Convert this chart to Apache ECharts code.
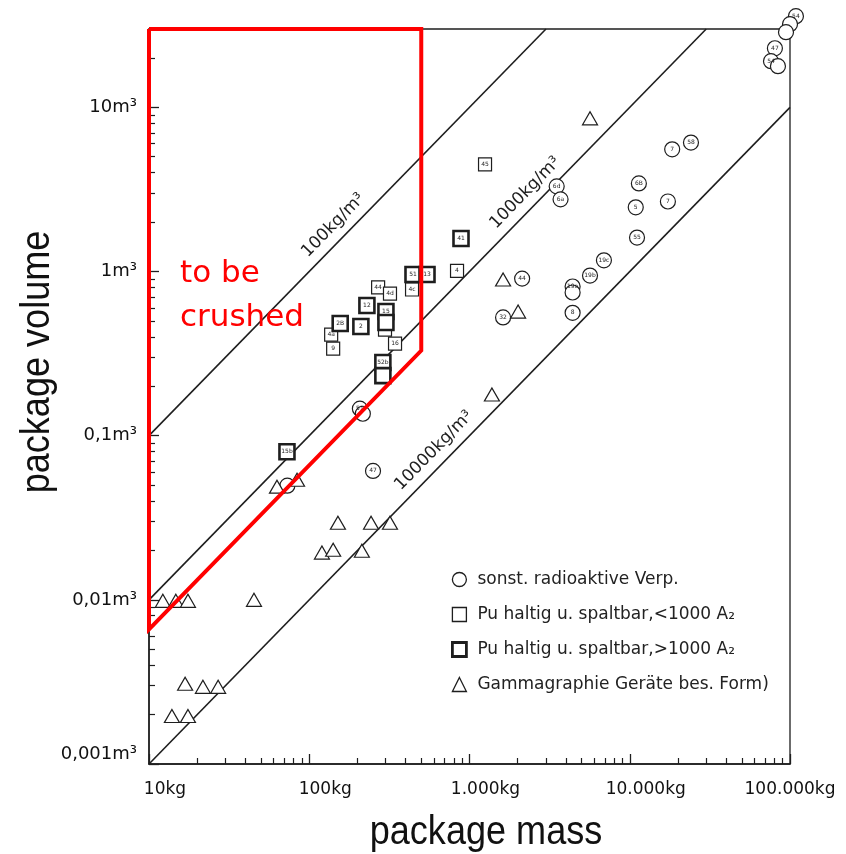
<!DOCTYPE html>
<html>
<head>
<meta charset="utf-8">
<title>package mass / package volume</title>
<script src="https://cdn.jsdelivr.net/npm/echarts@6/dist/echarts.min.js"></script>
<style>
  html, body { margin: 0; padding: 0; background: #fff; }
  #chart { width: 846px; height: 854px; }
</style>
</head>
<body>
<div id="chart"></div>
<script>
// achsen ==================================================
var massTicks = [10, 100, 1000, 10000, 100000]
var massLabels = ['10kg', '100kg', '1.000kg', '10.000kg', '100.000kg']
var volTicks = [0.001, 0.01, 0.1, 1, 10]
var volLabels = ['0,001m³', '0,01m³', '0,1m³', '1m³', '10m³']
var massMin = 10, massMax = 100000
var volMin = 0.001, volMax = 30

// dichte-linien (kg/m3)
var densities = [100, 1000, 10000]
var densityNames = ['100kg/m³', '1000kg/m³', '10000kg/m³']
var densityLabelMass = [165, 2600, 700]

// rote markierung "to be crushed"
var crushMass = [10, 500, 500, 10, 10]
var crushVol = [30, 30, 0.33, 0.0066, 30]

// sonst. radioaktive Verp. (kreise)
var circleMass = [3500, 3700, 11400, 10900, 17300, 11100, 18400, 24100, 6900, 5650, 4400, 4400, 4400, 2130, 1620, 207, 216, 250, 73, 108900, 100000, 94400, 80500, 76100, 84100]
var circleVol = [3.3, 2.75, 3.44, 2.46, 2.67, 1.61, 5.55, 6.1, 1.17, 0.945, 0.81, 0.745, 0.56, 0.905, 0.525, 0.146, 0.136, 0.061, 0.0496, 35.9, 32.1, 28.7, 22.9, 19.1, 17.8]
var circleTags = ['6d', '6a', '6B', '5', '7', '55', '7', '58', '19c', '19b', '19a', '', '8', '44', '32', '51', '', '47', '', '54', '', '', '47', '54', '']

// Pu haltig <1000 A2 (duenne quadrate)
var squareMass = [1250, 836, 438, 269, 319, 137, 141, 297, 343]
var squareVol = [4.49, 1.01, 0.777, 0.8, 0.734, 0.413, 0.339, 0.443, 0.364]
var squareTags = ['45', '4', '4c', '44', '4d', '4a', '9', '', '16']

// Pu haltig >1000 A2 (dicke quadrate)
var boldMass = [885, 444, 543, 229, 301, 301, 156, 210, 288, 288, 72.6]
var boldVol = [1.59, 0.959, 0.959, 0.621, 0.57, 0.489, 0.482, 0.462, 0.279, 0.232, 0.0798]
var boldTags = ['41', '51', '13', '12', '15', '', '2B', '2', '52b', '', '15b']

// Gammagraphie Geraete (dreiecke)
var triMass = [5650, 1620, 2010, 1380, 62.9, 83.9, 151, 243, 319, 120, 141, 213, 12.2, 14.7, 17.5, 45.2, 16.8, 21.7, 27, 13.9, 17.5]
var triVol = [8.57, 0.894, 0.57, 0.178, 0.0489, 0.0539, 0.0295, 0.0295, 0.0295, 0.0194, 0.0202, 0.0199, 0.00986, 0.00986, 0.00986, 0.01, 0.00308, 0.00295, 0.00295, 0.00196, 0.00196]

var seriesNames = ['sonst. radioaktive Verp.', 'Pu haltig u. spaltbar,<1000 A₂', 'Pu haltig u. spaltbar,>1000 A₂', 'Gammagraphie Geräte bes. Form)']

// minor ticks 2..9 je dekade
function minorTicks(ticks, max) {
    var out = []
    for (var i = 0; i < ticks.length; i++) {
        for (var k = 2; k < 10; k++) {
            var v = +(ticks[i] * k).toPrecision(6)
            if (v < max) out.push(v)
        }
    }
    return out
}

function points(mass, vol, tags) {
    var arr = []
    for (var i = 0; i < mass.length; i++) {
        arr.push({ value: [mass[i], vol[i]], tag: tags ? tags[i] : '' })
    }
    return arr
}

var ink = '#1e1e1e'
var font = 'DejaVu Sans'

var myChart = echarts.init(document.getElementById('chart'))

var tagLabel = {
    show: true,
    position: 'inside',
    fontSize: 6,
    color: ink,
    fontFamily: font,
    formatter: function (p) { return p.data.tag }
}

var series = []

densities.forEach(function (d) {
    var mEnd = Math.min(massMax, volMax * d)
    series.push({
        type: 'line',
        silent: true,
        symbol: 'none',
        z: 1,
        lineStyle: { color: ink, width: 1.6 },
        data: [[massMin, massMin / d], [mEnd, mEnd / d]]
    })
})

series.push({
    name: seriesNames[0],
    type: 'scatter',
    symbol: 'circle',
    symbolSize: 15,
    clip: false,
    z: 3,
    itemStyle: { color: '#fff', borderColor: ink, borderWidth: 1.2, opacity: 1 },
    label: tagLabel,
    data: points(circleMass, circleVol, circleTags)
})
series.push({
    name: seriesNames[1],
    type: 'scatter',
    symbol: 'rect',
    symbolSize: 13,
    z: 3,
    itemStyle: { color: '#fff', borderColor: ink, borderWidth: 1.2, opacity: 1 },
    label: tagLabel,
    data: points(squareMass, squareVol, squareTags)
})
series.push({
    name: seriesNames[2],
    type: 'scatter',
    symbol: 'rect',
    symbolSize: 15,
    z: 4,
    itemStyle: { color: '#fff', borderColor: ink, borderWidth: 2.6, opacity: 1 },
    label: tagLabel,
    data: points(boldMass, boldVol, boldTags)
})
series.push({
    name: seriesNames[3],
    type: 'scatter',
    symbol: 'triangle',
    symbolSize: [15, 13],
    z: 3,
    itemStyle: { color: '#fff', borderColor: ink, borderWidth: 1.2, opacity: 1 },
    data: points(triMass, triVol)
})

series.push({
    type: 'line',
    silent: true,
    symbol: 'none',
    clip: false,
    z: 10,
    lineStyle: { color: '#ff0000', width: 4, join: 'miter' },
    data: crushMass.map(function (m, i) { return [m, crushVol[i]] })
})

var option = {
    animation: false,
    backgroundColor: '#fff',
    grid: {
        left: 149, right: 56, top: 29, bottom: 90,
        show: true, borderColor: ink, borderWidth: 1.3
    },
    xAxis: [{
        type: 'log', logBase: 10, min: massMin, max: massMax,
        splitLine: { show: false },
        axisLine: { lineStyle: { color: ink, width: 1.5 } },
        axisTick: { inside: true, length: 10, lineStyle: { color: ink, width: 1.3 }, customValues: massTicks },
        axisLabel: {
            customValues: massTicks,
            margin: 17,
            color: '#111',
            fontFamily: font,
            fontSize: 17,
            formatter: function (v) {
                var i = massTicks.indexOf(v)
                if (i < 0) return ''
                return (i < massTicks.length - 1 ? '{p|' : '{q|') + massLabels[i] + '}'
            },
            rich: {
                p: { fontFamily: font, fontSize: 17, color: '#111', padding: [0, 0, 0, 32] },
                q: { fontFamily: font, fontSize: 17, color: '#111', padding: [0, 0, 0, 0] }
            }
        }
    }, {
        type: 'log', logBase: 10, min: massMin, max: massMax, position: 'bottom',
        splitLine: { show: false },
        axisLine: { show: false },
        axisTick: { inside: true, length: 6, lineStyle: { color: ink, width: 1.2 }, customValues: minorTicks(massTicks, massMax) },
        axisLabel: { show: false }
    }],
    yAxis: [{
        type: 'log', logBase: 10, min: volMin, max: volMax,
        splitLine: { show: false },
        axisLine: { lineStyle: { color: ink, width: 1.5 } },
        axisTick: { inside: true, length: 10, lineStyle: { color: ink, width: 1.3 }, customValues: volTicks },
        axisLabel: {
            customValues: volTicks,
            margin: 12,
            color: '#111',
            fontFamily: font,
            fontSize: 18,
            formatter: function (v) {
                var i = volTicks.indexOf(v)
                if (i < 0) return ''
                return (i === 0 ? '{b|' : '{a|') + volLabels[i] + '}'
            },
            rich: {
                a: { fontFamily: font, fontSize: 18, color: '#111' },
                b: { fontFamily: font, fontSize: 18, color: '#111', padding: [0, 0, 20, 0] }
            }
        }
    }, {
        type: 'log', logBase: 10, min: volMin, max: volMax, position: 'left',
        splitLine: { show: false },
        axisLine: { show: false },
        axisTick: { inside: true, length: 6, lineStyle: { color: ink, width: 1.2 }, customValues: minorTicks(volTicks, volMax) },
        axisLabel: { show: false }
    }],
    legend: {
        orient: 'vertical',
        left: 446,
        top: 566,
        itemWidth: 14,
        itemHeight: 14,
        itemGap: 18,
        selectedMode: false,
        textStyle: { fontFamily: font, fontSize: 17, color: '#222', padding: [0, 0, 0, 6] },
        data: [
            { name: seriesNames[0], icon: 'circle', itemStyle: { color: '#fff', borderColor: ink, borderWidth: 1.3 } },
            { name: seriesNames[1], icon: 'rect', itemStyle: { color: '#fff', borderColor: ink, borderWidth: 1.3 } },
            { name: seriesNames[2], icon: 'rect', itemStyle: { color: '#fff', borderColor: ink, borderWidth: 2.8 } },
            { name: seriesNames[3], icon: 'triangle', itemStyle: { color: '#fff', borderColor: ink, borderWidth: 1.3 } }
        ]
    },
    series: series
}
myChart.setOption(option)

//  beschriftungen ==================================================
var ang = Math.atan2(164, 160.25)
var graphics = []
densities.forEach(function (d, i) {
    var m = densityLabelMass[i]
    var p = myChart.convertToPixel({ xAxisIndex: 0, yAxisIndex: 0 }, [m, m / d])
    graphics.push({
        type: 'text',
        x: p[0] - 15 * Math.sin(ang),
        y: p[1] - 15 * Math.cos(ang),
        rotation: ang,
        z: 5,
        style: {
            text: densityNames[i],
            font: '17px "DejaVu Sans"',
            fill: ink,
            align: 'center',
            verticalAlign: 'middle'
        }
    })
})
graphics.push({
    type: 'text', left: 180, top: 252, z: 11,
    style: { text: 'to be\ncrushed', font: '31px "DejaVu Sans"', fill: '#ff0000', lineHeight: 44 }
})
graphics.push({
    type: 'text', x: 486, y: 833, scaleX: 0.88, z: 5,
    style: { text: 'package mass', font: '41px "Liberation Sans"', fill: '#111', align: 'center', verticalAlign: 'middle' }
})
graphics.push({
    type: 'text', x: 38, y: 362, rotation: Math.PI / 2, scaleX: 0.88, z: 5,
    style: { text: 'package volume', font: '41px "Liberation Sans"', fill: '#111', align: 'center', verticalAlign: 'middle' }
})
myChart.setOption({ graphic: graphics })

window.addEventListener('resize', function () {
    myChart.resize()
})
</script>
</body>
</html>
